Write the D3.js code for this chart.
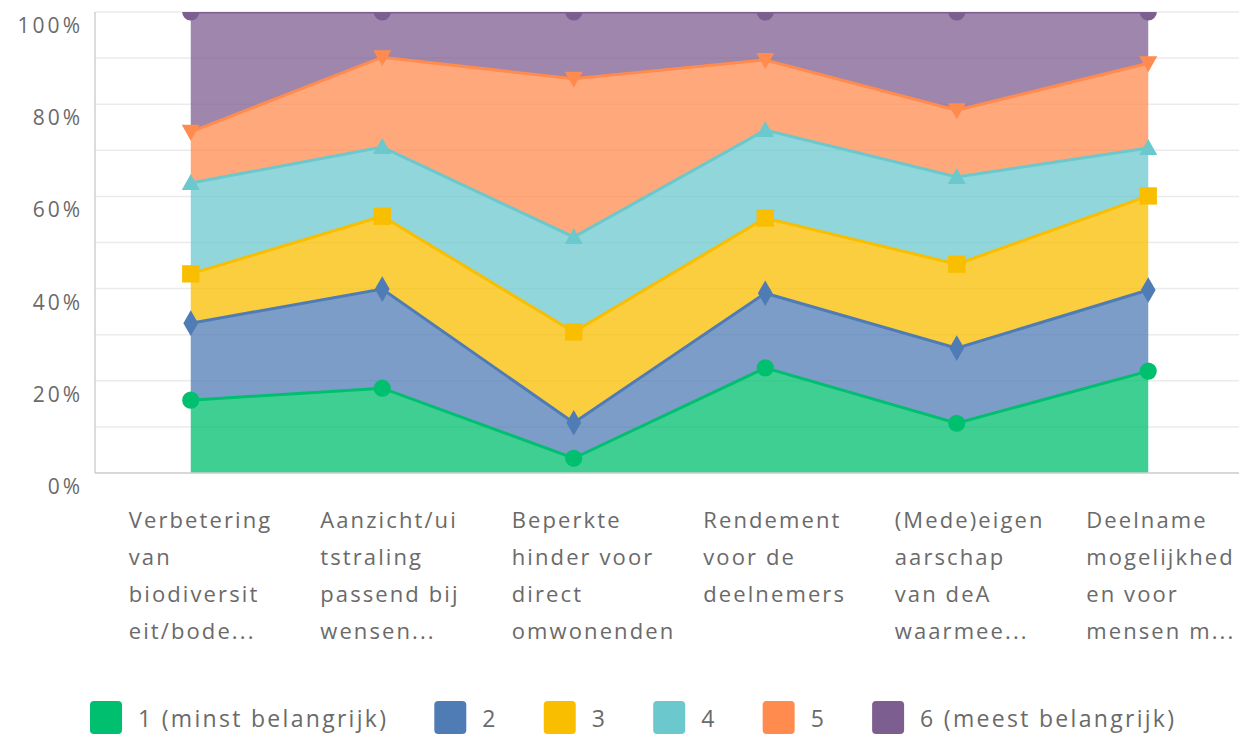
<!DOCTYPE html>
<html>
<head>
<meta charset="utf-8">
<script src="https://cdn.jsdelivr.net/npm/d3@7"></script>
<style>
  html, body { margin: 0; padding: 0; background: #fff; }
  svg { display: block; }
  text { font-family: "Open Sans", "Noto Sans", sans-serif; }
</style>
</head>
<body>
<svg id="chart" width="1239" height="736"></svg>
<script>
// ---- Data ----
const categories = [
  ["Verbetering", "van", "biodiversit", "eit/bode..."],
  ["Aanzicht/ui", "tstraling", "passend bij", "wensen..."],
  ["Beperkte", "hinder voor", "direct", "omwonenden"],
  ["Rendement", "voor de", "deelnemers"],
  ["(Mede)eigen", "aarschap", "van deA", "waarmee..."],
  ["Deelname", "mogelijkhed", "en voor", "mensen m..."]
];
const seriesNames = ["1 (minst belangrijk)", "2", "3", "4", "5", "6 (meest belangrijk)"];
const s1 = [15.8, 18.4, 3.2, 22.8, 10.8, 22.1];
const s2 = [16.7, 21.5, 7.7, 16.2, 16.3, 17.6];
const s3 = [10.7, 15.8, 19.7, 16.3, 18.2, 20.4];
const s4 = [19.7, 15.0, 20.6, 19.1, 18.9, 10.4];
const s5 = [11.1, 19.5, 34.3, 15.2, 14.5, 18.4];
const s6 = [26.0, 9.8, 14.5, 10.4, 21.3, 11.1];
const yTicks = [0, 20, 40, 60, 80, 100];
const gridTicks = [0, 10, 20, 30, 40, 50, 60, 70, 80, 90, 100];

const colors = ["#00BF6F", "#507CB6", "#F9BE00", "#6BC8CD", "#FF8B4F", "#7D5E90"];
const symbols = [d3.symbolCircle, d3.symbolDiamond, d3.symbolSquare, "triUp", "triDown", d3.symbolCircle];

const allSeries = [s1, s2, s3, s4, s5, s6];
const table = categories.map((c, i) => {
  const row = { idx: i };
  allSeries.forEach((s, k) => row["k" + k] = s[i]);
  return row;
});
const keys = allSeries.map((s, k) => "k" + k);
const stacked = d3.stack().keys(keys)(table);

// ---- Layout ----
const svg = d3.select("#chart");
const plotLeft = 95, plotRight = 1239, plotTop = 12, plotBottom = 473;

const x = d3.scalePoint().domain(d3.range(categories.length)).range([95, 1244]).padding(0.5);
const y = d3.scaleLinear().domain([0, 100]).range([plotBottom, plotTop]);

// gridlines
svg.append("g").selectAll("line").data(gridTicks).join("line")
  .attr("x1", plotLeft).attr("x2", plotRight)
  .attr("y1", d => y(d)).attr("y2", d => y(d))
  .attr("stroke", "#ebebeb").attr("stroke-width", 1.5);

// y labels
svg.append("g").selectAll("text").data(yTicks).join("text")
  .attr("x", 83).attr("y", d => y(d) + 13)
  .attr("text-anchor", "end").attr("dominant-baseline", "central")
  .attr("font-size", 21).attr("fill", "#6a6a6a").attr("letter-spacing", 3)
  .text(d => d + "%");

// clip
svg.append("clipPath").attr("id", "plotclip").append("rect")
  .attr("x", 0).attr("y", plotTop).attr("width", 1239).attr("height", plotBottom - plotTop);

const g = svg.append("g").attr("clip-path", "url(#plotclip)");

const area = d3.area().x((d, i) => x(i)).y0(d => y(d[0])).y1(d => y(d[1]));
const line = d3.line().x((d, i) => x(i)).y(d => y(d[1]));

g.selectAll("path.area").data(stacked).join("path")
  .attr("class", "area")
  .attr("d", area)
  .attr("fill", (d, k) => colors[k]).attr("fill-opacity", 0.75);

g.selectAll("path.line").data(stacked).join("path")
  .attr("class", "line")
  .attr("d", line)
  .attr("fill", "none")
  .attr("stroke", (d, k) => colors[k]).attr("stroke-width", 3);

function markerPath(k) {
  const s = symbols[k];
  if (s === "triUp") return "M0,-9L9,7L-9,7Z";
  if (s === "triDown") return "M0,9L9,-7L-9,-7Z";
  if (s === d3.symbolSquare) return d3.symbol().type(s).size(300)();
  if (s === d3.symbolDiamond) return d3.symbol().type(s).size(190)();
  return d3.symbol().type(s).size(230)();
}

stacked.forEach((layer, k) => {
  g.append("g").selectAll("path").data(layer).join("path")
    .attr("transform", (d, i) => `translate(${x(i)},${y(d[1])})`)
    .attr("d", markerPath(k))
    .attr("fill", colors[k]);
});

// axes lines
svg.append("line").attr("x1", plotLeft).attr("x2", plotLeft).attr("y1", plotTop).attr("y2", plotBottom)
  .attr("stroke", "#d0d0d0").attr("stroke-width", 1.5);
svg.append("line").attr("x1", plotLeft).attr("x2", plotRight).attr("y1", plotBottom).attr("y2", plotBottom)
  .attr("stroke", "#d0d0d0").attr("stroke-width", 1.5);

// x labels
const xl = svg.append("g");
categories.forEach((lines, i) => {
  const t = xl.append("text")
    .attr("x", x(i) - 62).attr("y", 519)
    .attr("font-size", 22).attr("fill", "#6a6a6a").attr("letter-spacing", 2.1)
    .attr("dominant-baseline", "central");
  lines.forEach((ln, j) => {
    t.append("tspan").attr("x", x(i) - 62).attr("y", 519 + j * 37).text(ln);
  });
});

// legend
const lg = svg.append("g");
let lx = 90;
seriesNames.forEach((name, k) => {
  lg.append("rect").attr("x", lx).attr("y", 701).attr("width", 32).attr("height", 33)
    .attr("rx", 4).attr("fill", colors[k]);
  const t = lg.append("text").attr("x", lx + 48).attr("y", 718)
    .attr("dominant-baseline", "central")
    .attr("font-size", 23).attr("fill", "#6a6a6a").attr("letter-spacing", 2.3)
    .text(name);
  lx = lx + 48 + t.node().getComputedTextLength() + 46;
});
</script>
</body>
</html>
